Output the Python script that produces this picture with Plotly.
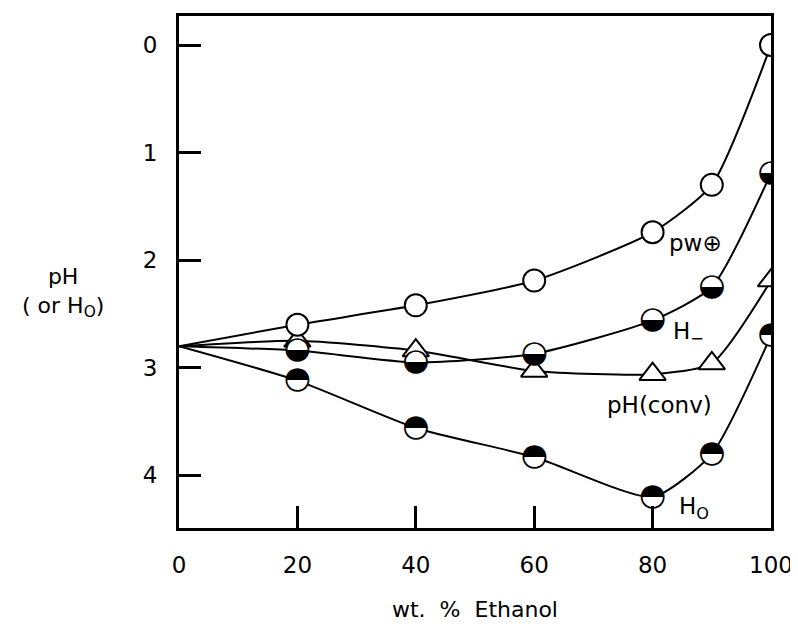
import plotly.graph_objects as go

# Data
ethanol = [0, 20, 40, 60, 80, 90, 100]
pw_plus = [2.80, 2.60, 2.42, 2.19, 1.74, 1.30, 0.00]
h_minus = [2.80, 2.84, 2.95, 2.87, 2.56, 2.25, 1.19]
ph_conv = [2.80, 2.75, 2.84, 3.03, 3.06, 2.96, 2.19]
h_zero = [2.80, 3.12, 3.56, 3.83, 4.20, 3.80, 2.70]

x_ticks = [0, 20, 40, 60, 80, 100]
y_ticks = [0, 1, 2, 3, 4]

FONT = "DejaVu Sans"
BLACK = "#000000"

fig = go.Figure()

# smooth curves (start at the common point at 0 %)
for ys in [pw_plus, h_minus, ph_conv, h_zero]:
    fig.add_trace(go.Scatter(x=ethanol, y=ys, mode="lines",
                             line=dict(color=BLACK, width=2, shape="spline", smoothing=0.6),
                             showlegend=False, hoverinfo="skip"))

mx = ethanol[1:]
# open triangles pH(conv)
fig.add_trace(go.Scatter(x=mx, y=ph_conv[1:], mode="markers",
                         marker=dict(symbol="triangle-up", size=23, color="white",
                                     line=dict(color=BLACK, width=2)),
                         showlegend=False))
# open circles pw+
fig.add_trace(go.Scatter(x=mx, y=pw_plus[1:], mode="markers",
                         marker=dict(symbol="circle", size=22, color="white",
                                     line=dict(color=BLACK, width=2)),
                         showlegend=False))
# half-filled circles: white base + glyph
for ys, glyph in [(h_minus, "\u25D2"), (h_zero, "\u25D3")]:
    fig.add_trace(go.Scatter(x=mx, y=ys[1:], mode="markers",
                             marker=dict(symbol="circle", size=21, color="white",
                                         line=dict(color=BLACK, width=0)),
                             showlegend=False))
    fig.add_trace(go.Scatter(x=mx, y=ys[1:], mode="text", text=[glyph] * len(mx),
                             textposition="middle center",
                             textfont=dict(family=FONT, size=31, color=BLACK),
                             showlegend=False))

labels = [("pw\u2295", 87.3, 1.84), ("H<sub>\u2212</sub>", 86.1, 2.68),
          ("pH(conv)", 81.1, 3.35), ("H<sub>O</sub>", 87.0, 4.30)]
for txt, lx, ly in labels:
    fig.add_annotation(x=lx, y=ly, text=txt, showarrow=False,
                       font=dict(family=FONT, size=23, color=BLACK))

fig.add_annotation(xref="paper", yref="paper", x=-0.196, y=0.46,
                   xanchor="center", yanchor="middle",
                   text="pH<br>( or H<sub>O</sub>)", showarrow=False, align="center",
                   font=dict(family=FONT, size=22, color=BLACK))
fig.add_annotation(xref="paper", yref="paper", x=0.5, y=-0.16,
                   xanchor="center", yanchor="middle",
                   text="wt.  %  Ethanol", showarrow=False,
                   font=dict(family=FONT, size=22, color=BLACK))

axis_common = dict(showgrid=False, zeroline=False, showline=True, linecolor=BLACK,
                   linewidth=3, mirror=True, ticks="inside", ticklen=22, tickwidth=2.5,
                   tickcolor=BLACK, tickfont=dict(family=FONT, size=23, color=BLACK))

fig.update_xaxes(range=[0, 100], tickvals=x_ticks, ticktext=[str(v) for v in x_ticks],
                 ticklabelstandoff=14, **axis_common)
fig.update_yaxes(range=[4.49, -0.27], tickvals=y_ticks, ticktext=[str(v) for v in y_ticks],
                 ticklabelstandoff=14, **axis_common)

fig.update_layout(width=790, height=621, plot_bgcolor="white", paper_bgcolor="white",
                  margin=dict(l=171, r=23, t=5, b=101), showlegend=False,
                  font=dict(family=FONT, color=BLACK))

fig.write_html("out.html")
